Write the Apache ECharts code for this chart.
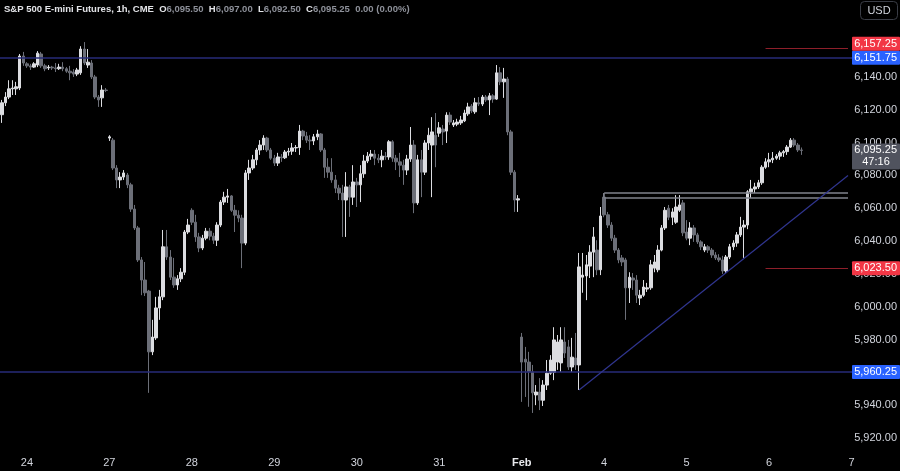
<!DOCTYPE html>
<html><head><meta charset="utf-8">
<script src="https://cdn.jsdelivr.net/npm/echarts@6/dist/echarts.min.js"></script>
<style>html,body{margin:0;padding:0;background:#000;}#c{width:900px;height:471px;}</style>
</head><body><div id="c"></div>
<script>
// ---- sessions / categories (1h candles, 23 per session) ----
const sessions = ['Jan 23','Jan 24','Jan 27','Jan 28','Jan 29','Jan 30','Jan 31','Feb 3','Feb 4','Feb 5','Feb 6','Feb 7'];
const slotsPerSession = [7,23,23,23,23,23,23,23,23,23,23,14];
const dateTickLabels = ['24','27','28','29','30','31','Feb','4','5','6','7'];

// ---- OHLC values [open, close, low, high] ----
const candles = [
[6117,6124.25,6112,6126],[6124.25,6127.75,6122.25,6130.75],[6127.75,6132.75,6126.5,6138],[6132.75,6133.25,6129,6138],
[6132.75,6134,6129,6137],[6133.25,6152.75,6132,6154],[6152.75,6148.5,6146.75,6155.25],
// Jan 24
[6148,6146.75,6145.5,6149],[6146.75,6146,6144.25,6148],[6146,6148,6145.5,6149],[6147.25,6154.5,6146,6155.75],
[6154,6146.75,6145.5,6155.25],[6146.75,6145,6143.5,6148],[6145.5,6146,6144.25,6147.25],[6146,6145.5,6144.25,6146.75],
[6145.5,6145,6143,6148.5],[6145,6146,6144.25,6148],[6146,6145,6143.5,6149],[6145,6143.5,6142.5,6146],
[6143.5,6142.5,6138,6146.75],[6143,6141.75,6140,6144.75],[6141.75,6144.25,6140.5,6145.5],[6142.5,6157,6141.25,6158.75],
[6157,6148.5,6147.25,6161.25],[6147.25,6149,6145.5,6157],[6148.5,6140,6138.75,6150.25],[6140,6127.75,6126.5,6141.25],
[6127.75,6126,6121.75,6129],[6127.25,6132,6121.75,6135],[6132,6131.75,6130.75,6133.25],
// Jan 27
[6102.75,6103.5,6101,6104.5],[6101.5,6084.5,6083.25,6102.75],[6084.5,6077.25,6072.25,6086.25],[6077.25,6079,6072.25,6082],
[6079,6081.5,6077.25,6083.25],[6080.25,6074.25,6072.25,6081.5],[6074.25,6059.5,6057.75,6075.5],[6059.5,6048,6046.75,6062],
[6048,6028.5,6027.25,6049.25],[6028.5,6016.25,6007,6030.25],[6016.25,6008.5,6006.5,6027.25],[6009.5,5972.5,5947.5,6010.25],
[5972.5,5981.5,5970.5,5992],[5981,5999.25,5979.75,6006],[5999.25,6006,5992,6010.25],[6006,6036.5,6004,6046.75],
[6036.5,6030.25,6028.5,6046.75],[6030.25,6018,6016.25,6034.5],[6018,6013.25,6011.5,6029.75],[6013.25,6017,6010.25,6019.25],
[6017,6021,6015,6023.5],[6021,6045.5,6019.25,6046.75],[6045.5,6049.75,6044.25,6053.5],
// Jan 28
[6058.75,6051.5,6049.75,6060],[6051.5,6042.5,6039.5,6056],[6042.5,6035.75,6033.25,6045],[6035.75,6041.75,6034.5,6043.75],
[6041.75,6046,6040.5,6048],[6046,6043,6040.5,6048],[6043,6040.5,6038.25,6045],[6040.5,6049.75,6037,6051.5],
[6049.75,6063.75,6048.5,6065],[6063.75,6066.75,6062,6070],[6066.75,6067.5,6063.25,6071.75],[6067.5,6058.75,6057.75,6068],
[6058.75,6055.75,6045.5,6062],[6055.75,6054,6051.5,6058.75],[6054,6038.75,6023.5,6056],[6038.75,6081.5,6037.5,6083.25],
[6081.5,6084.5,6077.25,6089.5],[6084.5,6089.5,6083.25,6092.5],[6089.5,6095.5,6086.25,6096.75],[6095.5,6098.5,6092.5,6101.5],
[6098.5,6102.75,6095.5,6104.5],[6102.75,6095.5,6094.25,6103.5],[6095.5,6090.5,6089.5,6096.75],
// Jan 29
[6090.5,6087.5,6085.75,6092.5],[6087.5,6091.25,6085.75,6093.75],[6091.25,6090.75,6088.25,6093],[6090.75,6094.25,6090,6095.5],
[6094.25,6094.75,6092,6096.75],[6094.75,6096.75,6092.5,6099.75],[6096.75,6097,6094.25,6098.5],[6097,6107,6092.5,6110.75],
[6107,6104,6101.5,6107.75],[6104,6101.5,6099.75,6106.5],[6101.5,6101,6095.5,6104.5],[6101,6103.5,6098.5,6105.25],
[6103.5,6105.25,6101.5,6107.75],[6105.25,6095.5,6094.25,6105.75],[6095.5,6085,6078.5,6096.75],[6085,6082,6078.5,6090.5],
[6082,6077.25,6075.5,6090.5],[6077.25,6072.25,6069.25,6080.25],[6072.25,6069.25,6065,6074.25],[6069.25,6065,6042.5,6074.25],
[6065,6073,6042.5,6082],[6073,6066.75,6054.75,6074.25],[6066.75,6076,6062,6086.25],
// Jan 30
[6076,6074.25,6060.75,6078.5],[6074.25,6081,6063.75,6086.25],[6081,6088.75,6078.5,6092.5],[6088.75,6091.75,6087.5,6094.25],
[6091.75,6093,6089.5,6095.5],[6093,6090.5,6086.25,6095.5],[6090.5,6089.5,6087.5,6093],[6089.5,6091.75,6085,6095.5],
[6091.75,6091.25,6089.5,6094.25],[6091.25,6100.5,6089.5,6101.5],[6100.5,6090.5,6088.25,6101.5],[6090.5,6088.25,6083.25,6092.5],
[6088.25,6086.25,6079,6093.75],[6086.25,6083.25,6074.25,6089.5],[6083.25,6090,6080.25,6092.5],[6090,6098.5,6088.25,6109.5],
[6098.5,6063.25,6057,6101.5],[6063.25,6089.5,6062,6092.5],[6089.5,6082,6066.75,6095.5],[6082,6099.75,6080.25,6101.5],
[6099.75,6104.5,6095.5,6109],[6098.5,6106.5,6066.75,6115.5],[6104.5,6098.5,6085,6118],
// Jan 31
[6105.75,6109,6103.5,6112.5],[6108.25,6106.5,6098.5,6110.75],[6107,6116.75,6099.75,6118.5],[6116.75,6112.5,6110.75,6118.5],
[6110.75,6112,6109.5,6113.75],[6111.25,6112.5,6110,6114.5],[6112,6113.75,6110.75,6116.25],[6113.25,6118,6112.5,6120],
[6117.5,6121.75,6116.25,6124.25],[6122.25,6119.25,6118,6123.5],[6118.75,6124.25,6117.5,6127.25],[6124.25,6123.5,6122.25,6127.75],
[6123.5,6127.75,6122.25,6129],[6127.75,6126,6124.75,6129],[6126,6128.5,6116.75,6130.25],[6128.5,6126.5,6124.25,6129.5],
[6126.5,6142.5,6126,6147.25],[6142.5,6137,6135,6146],[6137,6138.75,6127.25,6145.5],[6138.75,6106.5,6104.5,6140],
[6106.5,6082,6080.25,6107.75],[6082,6065,6057.75,6083.25],[6065,6065.75,6057.75,6068],
// Feb 3
[5981.5,5966.25,5942,5984],[5968,5966.25,5945,5975.5],[5966.25,5960.25,5939,5972.5],[5960.25,5947.5,5935.25,5964.5],
[5946.25,5948,5940,5952.25],[5948,5943,5937,5956.5],[5943,5952.25,5939.5,5955.25],[5952.25,5959.5,5949.25,5967.5],
[5959.5,5967.5,5958.5,5970.5],[5960,5979.75,5955.25,5987.5],[5966.25,5978.5,5961.5,5982.75],[5965.75,5979.75,5960.25,5987.5],
[5978.5,5971.75,5968.75,5987.5],[5975.5,5963.25,5961.5,5979.75],[5963.25,5969.25,5960.25,5981],[5968.75,5964.5,5961.5,5984],
[5964.5,6024.25,5949.25,6032.75],[6018,6019.25,6008.5,6032.75],[6018.75,6025.5,6004,6031.5],[6024.75,6033.25,6017.5,6037.5],
[6033.25,6042.5,6018,6048.5],[6034.5,6022.5,6019.25,6040.5],[6022.5,6055.25,6019.25,6060.75],
// Feb 4
[6066.75,6056,6054.5,6069.25],[6056,6049.75,6048,6057.75],[6049.75,6041.75,6040,6051.5],[6041.75,6034.5,6032.75,6043.75],
[6034.5,6028.5,6026.5,6035.75],[6029.75,6027.25,6024.75,6031.5],[6028.5,6011.5,5992,6029.75],[6011.5,6018,6002.25,6021],
[6017.5,6016.25,6010.25,6020.5],[6016.25,6007,6002.25,6019.25],[6005.25,6007,6001,6010.25],[6007,6012,6006,6016.25],
[6010.75,6011.5,6009,6014.5],[6011.5,6025.5,6010.25,6028.5],[6023.5,6027.25,6021,6031.5],[6022.5,6034.5,6021,6037.5],
[6034.5,6048,6033.75,6049.75],[6048,6058.75,6046.75,6060.75],[6060,6054.5,6052.75,6062],[6054.5,6057.75,6049.75,6060],
[6051.5,6060.75,6050.5,6068],[6058.75,6062,6057.75,6068],[6063.25,6045,6043,6065],
// Feb 5
[6045.5,6041.75,6040.5,6052.75],[6041.75,6048,6037.5,6051.5],[6048,6043.75,6039.5,6049.75],[6043.75,6039.5,6038.25,6045],
[6039.5,6036.5,6034.5,6040.5],[6034.5,6036.5,6033.25,6038.25],[6036.5,6034.5,6032.75,6037.5],[6034.5,6031.5,6029.75,6035.75],
[6031.5,6029.75,6028.5,6033.25],[6029.75,6028.5,6027.25,6032],[6028.5,6021.75,6020,6031],[6021.75,6030.25,6020.5,6031.5],
[6030.25,6036.5,6029,6038.25],[6036.5,6038.75,6034.5,6040.5],[6038.75,6043.75,6036.5,6045.5],[6043.75,6048.5,6042.5,6054.75],
[6048.5,6049.75,6029.75,6052.75],[6049.75,6070,6047.25,6071],[6070,6071.75,6066.25,6077.25],[6071.75,6073,6069.25,6075.5],
[6073,6075.5,6071.75,6077.25],[6075.5,6085,6074.25,6086.25],[6085,6088.25,6084,6090.5],
// Feb 6
[6088.25,6089.5,6085,6093.75],[6089.5,6090.5,6087.5,6094.25],[6090.5,6091.75,6089.5,6093],[6091.75,6093.75,6089.5,6095],
[6093.75,6094.5,6091.25,6095.5],[6094.5,6097.25,6092.5,6098.5],[6097.25,6101.5,6096.75,6102.75],[6101.5,6098.5,6097.25,6102.75],
[6098.5,6095.5,6094.25,6099.75],[6095.5,6095.25,6092.5,6097]
];

// ---- annotation levels ----
const blueLevels = [6151.75, 5960.25];
const redLevels = [6157.25, 6023.5];
const redLevelStartIndex = 213;
const resistanceBox = {startIndex: 168, low: 6066.25, high: 6069.25};
const trendline = [[161, 5949.25], [236, 6080]];
const plotEndIndex = 236;
const lastPrice = 6095.25;
const countdown = '47:16';
const header = {name: 'S&P 500 E-mini Futures, 1h, CME', o: '6,095.50', h: '6,097.00', l: '6,092.50', c: '6,095.25', chg: '0.00 (0.00%)'};

// ---- build categories ----
const categories = [];
const tickAt = {};
sessions.forEach((s, k) => {
  if (k > 0) tickAt[categories.length] = dateTickLabels[k - 1];
  for (let h = 0; h < slotsPerSession[k]; h++) categories.push(s + ' #' + h);
});

const fmt = v => v.toLocaleString('en-US', {minimumFractionDigits: 2, maximumFractionDigits: 2});

const UP = '#dcdde1', DOWN = '#6c6f78';
const BLUE_LINE = '#272b78', RED_LINE = '#8e1f2a', BOX = '#80838c';

const chart = echarts.init(document.getElementById('c'), null, {renderer: 'canvas'});

const markData = [];
blueLevels.forEach(v => markData.push({yAxis: v, lineStyle: {color: BLUE_LINE, width: 1.5, type: 'solid'}}));
redLevels.forEach(v => markData.push([{coord: [redLevelStartIndex, v], lineStyle: {color: RED_LINE, width: 1, type: 'solid'}}, {coord: [plotEndIndex, v]}]));
markData.push([{coord: [resistanceBox.startIndex, resistanceBox.high], lineStyle: {color: BOX, width: 1.5, type: 'solid'}}, {coord: [plotEndIndex, resistanceBox.high]}]);
markData.push([{coord: [resistanceBox.startIndex, resistanceBox.low], lineStyle: {color: BOX, width: 1.5, type: 'solid'}}, {coord: [plotEndIndex, resistanceBox.low]}]);
markData.push([{coord: [resistanceBox.startIndex, resistanceBox.low], lineStyle: {color: BOX, width: 1.5, type: 'solid'}}, {coord: [resistanceBox.startIndex, resistanceBox.high]}]);
markData.push([{coord: trendline[0], lineStyle: {color: '#30358f', width: 1.2, type: 'solid'}}, {coord: trendline[1]}]);

chart.setOption({
  animation: false,
  backgroundColor: '#000000',
  title: {
    left: 4, top: 4, padding: 0,
    text: '{a|' + header.name + '}  {k|O}{v|' + header.o + '}  {k|H}{v|' + header.h + '}  {k|L}{v|' + header.l + '}  {k|C}{v|' + header.c + '}  {v|' + header.chg + '}',
    textStyle: {
      fontFamily: 'Liberation Sans', fontSize: 9.5,
      rich: {
        a: {color: '#e3e4e8', fontSize: 9.5, fontFamily: 'Liberation Sans'},
        k: {color: '#e3e4e8', fontSize: 9.5, fontFamily: 'Liberation Sans'},
        v: {color: '#8e919a', fontSize: 9.5, fontFamily: 'Liberation Sans'}
      }
    }
  },
  grid: {left: 0, right: 0, top: 11.3, bottom: 16.6, containLabel: false},
  xAxis: {
    type: 'category', data: categories, boundaryGap: true,
    axisLine: {show: false}, axisTick: {show: false}, splitLine: {show: false},
    axisLabel: {
      interval: idx => tickAt[idx] !== undefined,
      formatter: (val, idx) => tickAt[idx] === 'Feb' ? '{b|Feb}' : (tickAt[idx] || ''),
      color: '#d1d4dc', fontSize: 11, fontFamily: 'Liberation Sans', margin: 3,
      rich: {b: {fontWeight: 'bold', color: '#e8e9ec', fontSize: 11, fontFamily: 'Liberation Sans'}}
    }
  },
  yAxis: {
    type: 'value', position: 'right', min: 5910, max: 6180, interval: 10, scale: true,
    axisLine: {show: false}, axisTick: {show: false}, splitLine: {show: false},
    axisLabel: {
      inside: true, margin: 3, color: '#d1d4dc', fontSize: 11, fontFamily: 'Liberation Sans',
      formatter: v => (v % 20 === 0 && v < 6170) ? fmt(v) : ''
    }
  },
  series: [
    {
      type: 'candlestick', data: candles, barWidth: 3,
      itemStyle: {color: UP, color0: DOWN, borderColor: UP, borderColor0: DOWN, borderWidth: 1},
      z: 3
    },
    {
      type: 'line', data: [], silent: true, z: 2,
      markLine: {silent: true, symbol: ['none', 'none'], label: {show: false}, animation: false, data: markData}
    }
  ]
});

// ---- price badges on the right scale ----
const badges = [
  {v: 6157.25, text: '6,157.25', bg: '#f23645'},
  {v: 6151.75, text: '6,151.75', bg: '#2962ff'},
  {v: lastPrice, text: fmt(lastPrice), sub: countdown, bg: '#50535e'},
  {v: 6023.5, text: '6,023.50', bg: '#f23645'},
  {v: 5960.25, text: '5,960.25', bg: '#2962ff'}
];
badges.forEach(b => { b.y = chart.convertToPixel({yAxisIndex: 0}, b.v); });
badges.sort((a, b) => b.y - a.y);
for (let i = 1; i < badges.length; i++) {
  const lower = badges[i - 1], upper = badges[i];
  if (lower.y - upper.y < 14) upper.y = lower.y - 14;
}
const els = [];
badges.forEach(b => {
  const h = b.sub ? 26 : 14;
  els.push({type: 'rect', z: 100, shape: {x: 852, y: b.y - 7, width: 48, height: h, r: 1}, style: {fill: b.bg}});
  els.push({type: 'text', z: 101, style: {x: 897, y: b.y, text: b.text, fill: '#ffffff', font: '11px "Liberation Sans"', textAlign: 'right', textVerticalAlign: 'middle'}});
  if (b.sub) els.push({type: 'text', z: 101, style: {x: 876, y: b.y + 12, text: b.sub, fill: '#ffffff', font: '11px "Liberation Sans"', textAlign: 'center', textVerticalAlign: 'middle'}});
});
els.push({type: 'rect', z: 100, shape: {x: 860.5, y: 1.5, width: 37, height: 18, r: 4}, style: {fill: '#000', stroke: '#3a3d46', lineWidth: 1}});
els.push({type: 'text', z: 101, style: {x: 879, y: 10.5, text: 'USD', fill: '#d1d4dc', font: '11px "Liberation Sans"', textAlign: 'center', textVerticalAlign: 'middle'}});
chart.setOption({graphic: {elements: els}});
</script>
</body></html>
